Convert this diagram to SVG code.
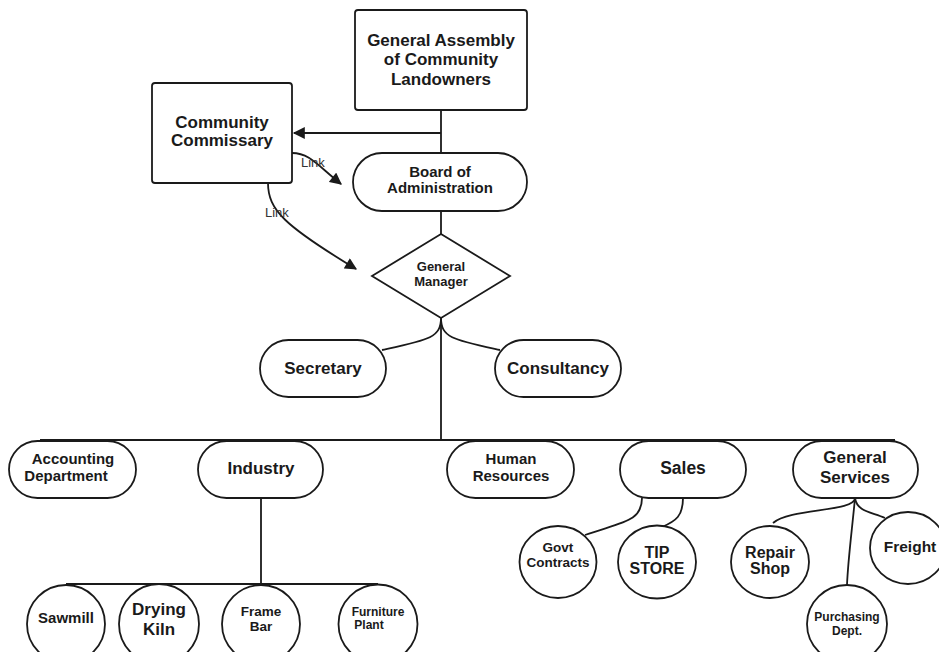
<svg xmlns="http://www.w3.org/2000/svg" width="939" height="652" viewBox="0 0 939 652">
<defs>
<style>
.n{fill:#fff;stroke:#1a1a1a;stroke-width:1.8}
.t{font-family:"Liberation Sans",Arial,sans-serif;font-weight:bold;fill:#1a1a1a;text-anchor:middle}
.c{fill:none;stroke:#1a1a1a;stroke-width:1.8}
.l{font-family:"Liberation Sans",Arial,sans-serif;font-size:13px;fill:#333}
</style>
<marker id="ah" viewBox="0 0 10 10" refX="9" refY="5" markerWidth="13" markerHeight="12" markerUnits="userSpaceOnUse" orient="auto">
<path d="M0,0 L10,5 L0,10 z" fill="#1a1a1a"/>
</marker>
<marker id="ah2" viewBox="0 0 10 10" refX="9" refY="5" markerWidth="13" markerHeight="12" markerUnits="userSpaceOnUse" orient="auto">
<path d="M0,0 L10,5 L0,10 z" fill="#1a1a1a"/>
</marker>
</defs>
<rect width="939" height="652" fill="#fff"/>
<g id="connectors">
<path class="c" d="M441,110 V153"/>
<path class="c" d="M441,133 H294" marker-end="url(#ah2)"/>
<path class="c" d="M441,211 V234"/>
<path class="c" d="M292,153 C310,153 318,166 341,184" marker-end="url(#ah)"/>
<path class="c" d="M268,183 C268,210 285,226 356,269" marker-end="url(#ah)"/>
<path class="c" d="M441,318 C441,338 428,340 382,350"/>
<path class="c" d="M441,318 C441,338 454,340 500,350"/>
<path class="c" d="M441,318 V440"/>
<path class="c" d="M40,440 H895"/>
<path class="c" d="M261,498 V584"/>
<path class="c" d="M66,584 H378"/>
<path class="c" d="M642,498 C642,522 622,522 585,535"/>
<path class="c" d="M683,498 C683,516 676,521 662,527"/>
<path class="c" d="M855,498 C855,512 790,508 773,523"/>
<path class="c" d="M855,498 C852,530 848,560 847,585"/>
<path class="c" d="M855,498 C857,512 872,512 885,518"/>
<text class="l" x="301" y="167">Link</text>
<text class="l" x="265" y="217">Link</text>
</g>
<g id="general-assembly">
<rect class="n" x="355" y="10" width="172" height="100" rx="3"/>
<text class="t" x="441" y="46" font-size="17">General Assembly</text>
<text class="t" x="441" y="65" font-size="17">of Community</text>
<text class="t" x="441" y="85" font-size="17">Landowners</text>
</g>
<g id="community-commissary">
<rect class="n" x="152" y="83" width="140" height="100" rx="3"/>
<text class="t" x="222" y="128" font-size="17">Community</text>
<text class="t" x="222" y="146" font-size="17">Commissary</text>
</g>
<g id="board">
<rect class="n" x="353" y="153" width="174" height="58" rx="29"/>
<text class="t" x="440" y="177" font-size="15">Board of</text>
<text class="t" x="440" y="193" font-size="15">Administration</text>
</g>
<g id="general-manager">
<path class="n" d="M441,234 L510,276 L441,318 L372,276 Z"/>
<text class="t" x="441" y="271" font-size="13">General</text>
<text class="t" x="441" y="286" font-size="13">Manager</text>
</g>
<g id="secretary">
<rect class="n" x="260" y="340" width="126" height="57" rx="28.5"/>
<text class="t" x="323" y="374" font-size="17">Secretary</text>
</g>
<g id="consultancy">
<rect class="n" x="495" y="340" width="126" height="57" rx="28.5"/>
<text class="t" x="558" y="374" font-size="17">Consultancy</text>
</g>
<g id="accounting">
<rect class="n" x="9" y="441" width="127" height="57" rx="28.5"/>
<text class="t" x="73" y="464" font-size="15">Accounting</text>
<text class="t" x="66" y="481" font-size="15">Department</text>
</g>
<g id="industry">
<rect class="n" x="198" y="441" width="125" height="57" rx="28.5"/>
<text class="t" x="261" y="474" font-size="17">Industry</text>
</g>
<g id="human-resources">
<rect class="n" x="447" y="441" width="127" height="57" rx="28.5"/>
<text class="t" x="511" y="464" font-size="15">Human</text>
<text class="t" x="511" y="481" font-size="15">Resources</text>
</g>
<g id="sales">
<rect class="n" x="620" y="441" width="126" height="57" rx="28.5"/>
<text class="t" x="683" y="474" font-size="17.5">Sales</text>
</g>
<g id="general-services">
<rect class="n" x="793" y="441" width="125" height="57" rx="28.5"/>
<text class="t" x="855" y="463" font-size="17">General</text>
<text class="t" x="855" y="483" font-size="17">Services</text>
</g>
<g id="govt-contracts">
<ellipse class="n" cx="558" cy="562" rx="38.5" ry="36"/>
<text class="t" x="558" y="552" font-size="13.5">Govt</text>
<text class="t" x="558" y="567" font-size="13.5">Contracts</text>
</g>
<g id="tip-store">
<ellipse class="n" cx="657" cy="562" rx="39" ry="36.5"/>
<text class="t" x="657" y="558" font-size="16">TIP</text>
<text class="t" x="657" y="574" font-size="16">STORE</text>
</g>
<g id="repair-shop">
<ellipse class="n" cx="770" cy="562" rx="39" ry="36"/>
<text class="t" x="770" y="558" font-size="16">Repair</text>
<text class="t" x="770" y="574" font-size="16">Shop</text>
</g>
<g id="freight">
<ellipse class="n" cx="908" cy="548" rx="38" ry="36"/>
<text class="t" x="910" y="552" font-size="15.5">Freight</text>
</g>
<g id="purchasing">
<ellipse class="n" cx="847" cy="624" rx="40" ry="39"/>
<text class="t" x="847" y="621" font-size="12">Purchasing</text>
<text class="t" x="847" y="635" font-size="12">Dept.</text>
</g>
<g id="sawmill">
<circle class="n" cx="66" cy="624" r="39"/>
<text class="t" x="66" y="623" font-size="15">Sawmill</text>
</g>
<g id="drying-kiln">
<circle class="n" cx="159" cy="624" r="40"/>
<text class="t" x="159" y="615" font-size="17">Drying</text>
<text class="t" x="159" y="635" font-size="17">Kiln</text>
</g>
<g id="frame-bar">
<circle class="n" cx="261" cy="624" r="39"/>
<text class="t" x="261" y="616" font-size="13.5">Frame</text>
<text class="t" x="261" y="631" font-size="13.5">Bar</text>
</g>
<g id="furniture-plant">
<circle class="n" cx="378" cy="624" r="39.5"/>
<text class="t" x="378" y="616" font-size="12">Furniture</text>
<text class="t" x="369" y="629" font-size="12">Plant</text>
</g>
</svg>
